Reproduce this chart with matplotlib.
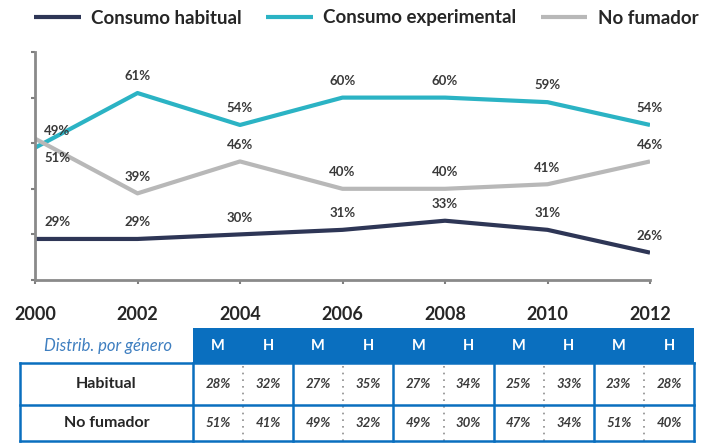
import matplotlib
matplotlib.use("Agg")
import matplotlib.pyplot as plt
from matplotlib.patches import Rectangle

# datos de la grafica
anios = [2000, 2002, 2004, 2006, 2008, 2010, 2012]
habitual = [29, 29, 30, 31, 33, 31, 26]
experimental = [49, 61, 54, 60, 60, 59, 54]
no_fumador = [51, 39, 46, 40, 40, 41, 46]
series_nombres = ["Consumo habitual", "Consumo experimental", "No fumador"]

# datos de la tabla (distribucion por genero)
anios_tabla = [2004, 2006, 2008, 2010, 2012]
filas = ["Habitual", "No fumador"]
habitual_m = [28, 27, 27, 25, 23]
habitual_h = [32, 35, 34, 33, 28]
nofum_m = [51, 49, 49, 47, 51]
nofum_h = [41, 32, 30, 34, 40]

plt.rcParams['font.family'] = ['Lato', 'DejaVu Sans']
W, H = 710, 443
fig = plt.figure(figsize=(W / 100, H / 100), dpi=100)

# ejes de la grafica de lineas (en pixeles: x 35-650, y 52-280)
ax = fig.add_axes([35 / W, 1 - 280 / H, 615 / W, 228 / H])
colores = ["#2e3656", "#2bb3c4", "#b8b8b8"]
gris_txt = "#3a3a3a"
for serie, c, nom in zip([habitual, experimental, no_fumador], colores, series_nombres):
    ax.plot(anios, serie, color=c, lw=3, label=nom, solid_capstyle='butt')

for k, serie in enumerate([habitual, experimental, no_fumador]):
    for i, (x, v) in enumerate(zip(anios, serie)):
        dx = 16 if i == 0 else 0
        dy = 12
        if k == 2 and i == 0:
            dy = -14
        ax.annotate(f"{v}%", (x, v), xytext=(dx, dy), textcoords='offset points',
                    ha='center', va='center', fontsize=9.5, fontweight='bold', color=gris_txt)

ax.set_xlim(2000, 2012)
ax.set_ylim(20, 70)
ax.set_yticks(range(20, 71, 10))
ax.set_yticklabels([])
ax.set_xticks(anios)
ax.set_xticklabels([str(a) for a in anios], fontsize=13, fontweight='bold', color="#262626")
ax.tick_params(axis='both', length=3, width=1.5, color="#7f7f7f", direction='out')
ax.tick_params(axis='x', pad=16)
for s in ['top', 'right']:
    ax.spines[s].set_visible(False)
for s in ['left', 'bottom']:
    ax.spines[s].set_color("#8a8a8a")
    ax.spines[s].set_linewidth(2)
ax.patch.set_alpha(0)

leg = ax.legend(loc='center', bbox_to_anchor=(366 / W, 1 - 18 / H), bbox_transform=fig.transFigure,
                ncol=3, frameon=False, handlelength=2.5, handletextpad=0.55,
                columnspacing=1.3, prop={'weight': 'bold', 'size': 13.5})
for t in leg.get_texts():
    t.set_color("#262626")

# tabla, en coordenadas de pixel
ov = fig.add_axes([0, 0, 1, 1])
ov.set_xlim(0, W)
ov.set_ylim(H, 0)
ov.axis('off')

azul = "#0a6fbf"
x0, xt, x1 = 20, 193, 694
y_head, y_body, y_mid, y_end = 328, 363, 405, 441
ancho = (x1 - xt) / len(anios_tabla)

ov.add_patch(Rectangle((xt, y_head), x1 - xt, y_body - y_head, color=azul, lw=0))
ov.text((x0 + xt) / 2 + 2, (y_head + y_body) / 2, "Distrib. por género", ha='center', va='center',
        fontsize=12, style='italic', color="#3f7fc0")
for j, a in enumerate(anios_tabla):
    gx = xt + j * ancho
    ov.text(gx + ancho * 0.25, (y_head + y_body) / 2, "M", ha='center', va='center',
            fontsize=10.5, fontweight='bold', color='white')
    ov.text(gx + ancho * 0.75, (y_head + y_body) / 2, "H", ha='center', va='center',
            fontsize=10.5, fontweight='bold', color='white')
    ov.plot([gx + ancho / 2, gx + ancho / 2], [y_body + 3, y_end], color="#8c8c8c", lw=1.2,
            ls=(0, (1, 3)))
    ov.plot([gx, gx], [y_body, y_end], color=azul, lw=1.8)

# bordes
ov.plot([x0, x1], [y_body, y_body], color=azul, lw=1.8)
ov.plot([x0, x1], [y_mid, y_mid], color=azul, lw=1.8)
ov.plot([x0, x1], [y_end, y_end], color=azul, lw=1.8)
ov.plot([x0, x0], [y_body, y_end], color=azul, lw=1.8)
ov.plot([x1, x1], [y_body, y_end], color=azul, lw=1.8)

filas_y = [(y_body + y_mid) / 2, (y_mid + y_end) / 2]
for fila, yy, vm, vh in zip(filas, filas_y, [habitual_m, nofum_m], [habitual_h, nofum_h]):
    ov.text((x0 + xt) / 2, yy, fila, ha='center', va='center', fontsize=11.5,
            fontweight='bold', color="#262626")
    for j in range(len(anios_tabla)):
        gx = xt + j * ancho
        ov.text(gx + ancho * 0.25, yy, f"{vm[j]}%", ha='center', va='center', fontsize=9.5,
                style='italic', fontweight='bold', color=gris_txt)
        ov.text(gx + ancho * 0.75, yy, f"{vh[j]}%", ha='center', va='center', fontsize=9.5,
                style='italic', fontweight='bold', color=gris_txt)

fig.savefig("out.png", dpi=100)
